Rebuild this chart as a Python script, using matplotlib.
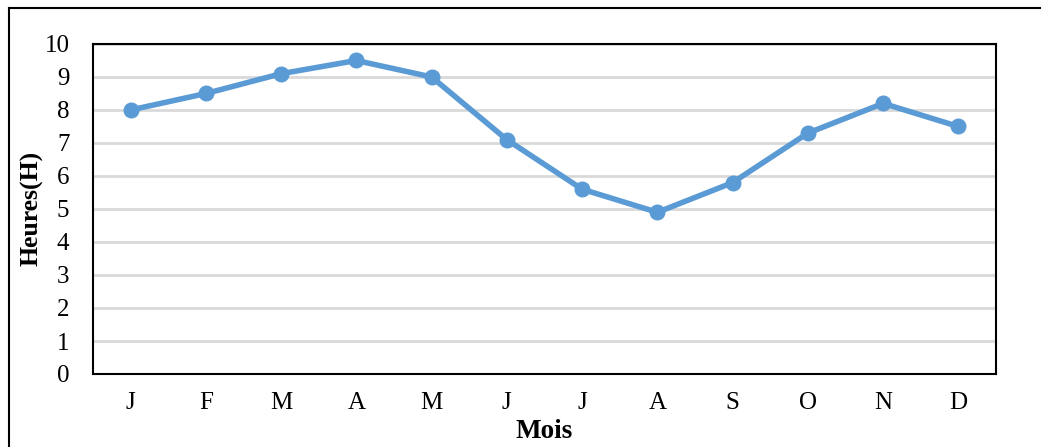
import matplotlib.pyplot as plt
from matplotlib.lines import Line2D

plt.rcParams['font.family'] = ['Liberation Serif', 'DejaVu Serif']

mois = ['J', 'F', 'M', 'A', 'M', 'J', 'J', 'A', 'S', 'O', 'N', 'D']
heures = [8.0, 8.5, 9.1, 9.5, 9.0, 7.1, 5.6, 4.9, 5.8, 7.3, 8.2, 7.5]
y_ticks = list(range(0, 11))

W, H = 1041, 447
fig = plt.figure(figsize=(W / 100, H / 100), dpi=100)

# plot area in pixel coordinates: left, top, right, bottom
left, top, right, bottom = 93, 44, 996, 374
ax = fig.add_axes([left / W, 1 - bottom / H, (right - left) / W, (bottom - top) / H])

x = list(range(len(mois)))
ax.plot(x, heures, color='#5b9bd5', linewidth=4, marker='o',
        markersize=10.5, zorder=3)

ax.set_xlim(-0.5, len(mois) - 0.5)
ax.set_ylim(0, 10)
ax.set_yticks(y_ticks)
ax.set_xticks(x)
ax.set_xticklabels(mois)
ax.tick_params(axis='both', length=0, labelsize=18)
ax.tick_params(axis='x', pad=13)
ax.tick_params(axis='y', pad=17)

ax.grid(axis='y', color='#d9d9d9', linewidth=2)
ax.set_axisbelow(True)
for s in ax.spines.values():
    s.set_color('black')
    s.set_linewidth(1.5)

fig.text(32 / W, 1 - 208 / H, 'Heures(H)', rotation=90, fontsize=18.5,
         fontweight='bold', ha='center', va='center')
fig.text(544 / W, 1 - 431 / H, 'Mois', fontsize=19.5, fontweight='bold',
         ha='center', va='center')

# outer chart border (only left and top edges fall inside the image)
fig.add_artist(Line2D([9 / W, 9 / W], [0, 1 - 8 / H], transform=fig.transFigure,
                      color='black', linewidth=1.5))
fig.add_artist(Line2D([9 / W, 1], [1 - 8 / H, 1 - 8 / H], transform=fig.transFigure,
                      color='black', linewidth=1.5))

fig.savefig('out.png', dpi=100)
